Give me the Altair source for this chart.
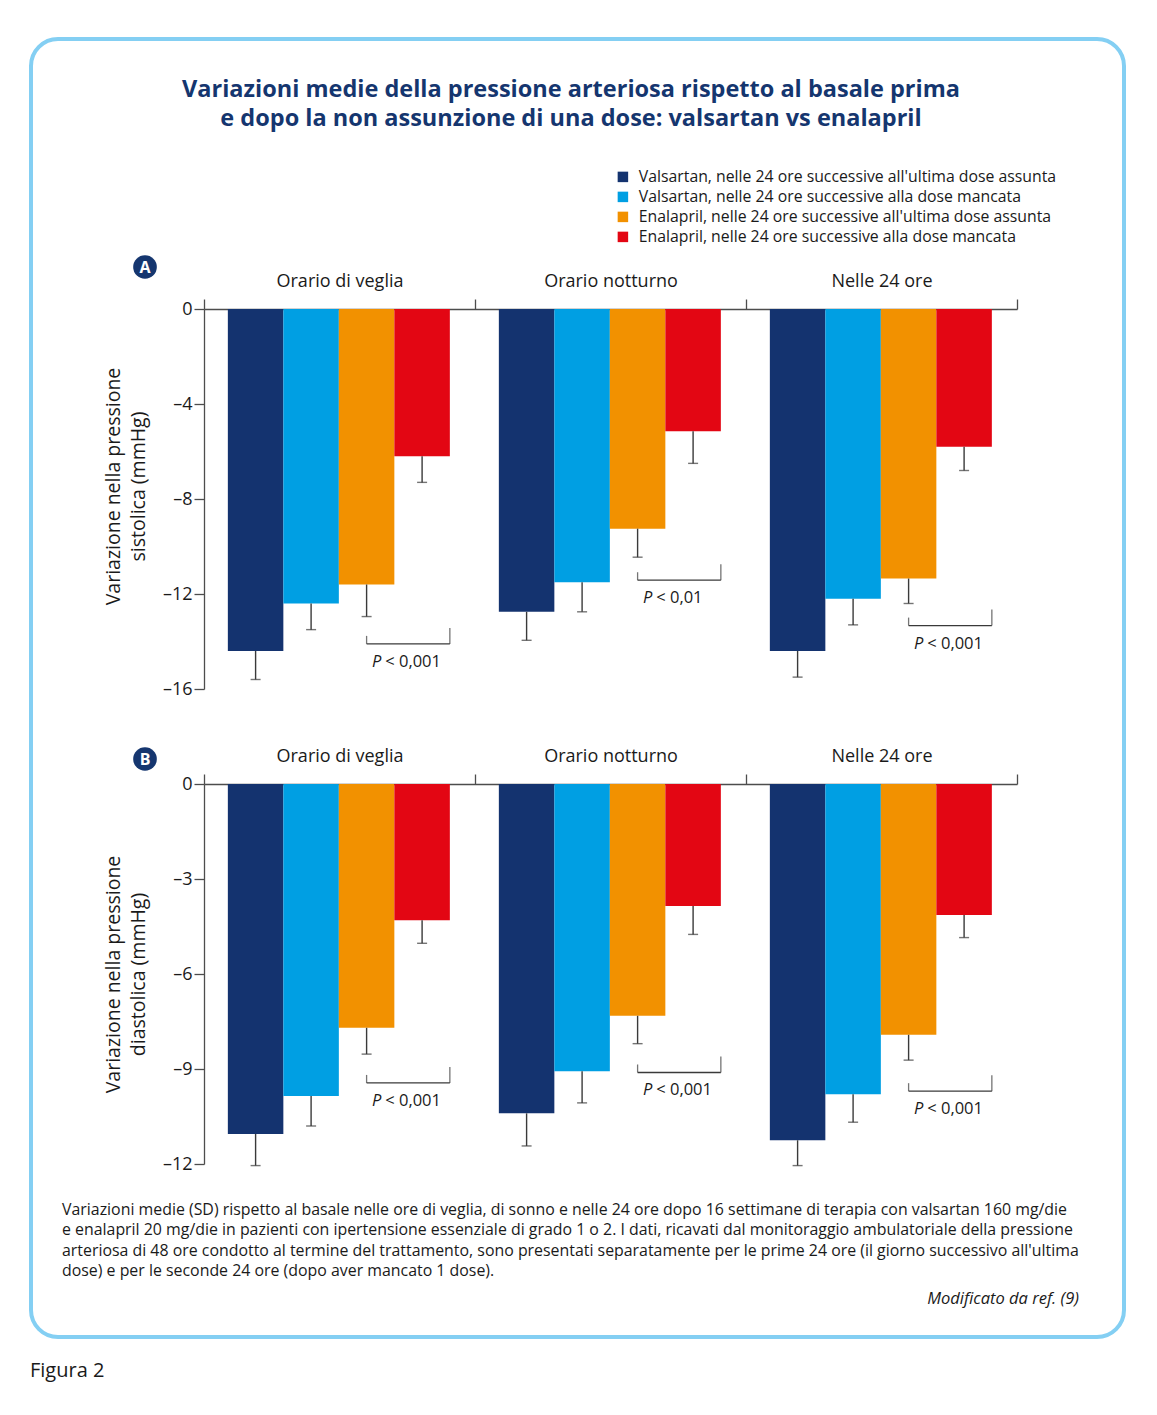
import altair as alt
import pandas as pd

GROUPS = ["Orario di veglia", "Orario notturno", "Nelle 24 ore"]
SERIES = [
    "Valsartan, nelle 24 ore successive all'ultima dose assunta",
    "Valsartan, nelle 24 ore successive alla dose mancata",
    "Enalapril, nelle 24 ore successive all'ultima dose assunta",
    "Enalapril, nelle 24 ore successive alla dose mancata",
]
COLORS = ["#14336f", "#009fe3", "#f29100", "#e30613"]

# Panel A - systolic (mmHg), per group: 4 series
SYS_VEGLIA = [-14.4, -12.4, -11.6, -6.2]
SYS_NOTTURNO = [-12.75, -11.5, -9.25, -5.15]
SYS_24H = [-14.4, -12.2, -11.35, -5.8]
SYS_SD_VEGLIA = [1.2, 1.1, 1.35, 1.1]
SYS_SD_NOTTURNO = [1.2, 1.25, 1.2, 1.35]
SYS_SD_24H = [1.1, 1.1, 1.05, 1.0]
SYS_BRACKET = [-14.1, -11.42, -13.33]
SYS_P = ["< 0,001", "< 0,01", "< 0,001"]

# Panel B - diastolic (mmHg)
DIA_VEGLIA = [-11.05, -9.85, -7.7, -4.3]
DIA_NOTTURNO = [-10.4, -9.07, -7.32, -3.85]
DIA_24H = [-11.25, -9.8, -7.92, -4.14]
DIA_SD_VEGLIA = [1.0, 0.95, 0.83, 0.73]
DIA_SD_NOTTURNO = [1.03, 1.0, 0.88, 0.9]
DIA_SD_24H = [0.8, 0.88, 0.8, 0.71]
DIA_BRACKET = [-9.44, -9.11, -9.70]
DIA_P = ["< 0,001", "< 0,001", "< 0,001"]

SYS_TICKS = [0, -4, -8, -12, -16]
DIA_TICKS = [0, -3, -6, -9, -12]

TITLE = ("Variazioni medie della pressione arteriosa rispetto al basale prima\n"
         "e dopo la non assunzione di una dose: valsartan vs enalapril")
CAPTION = ("Variazioni medie (SD) rispetto al basale nelle ore di veglia, di sonno e nelle 24 ore dopo 16 settimane di terapia con valsartan 160 mg/die\n"
           "e enalapril 20 mg/die in pazienti con ipertensione essenziale di grado 1 o 2. I dati, ricavati dal monitoraggio ambulatoriale della pressione\n"
           "arteriosa di 48 ore condotto al termine del trattamento, sono presentati separatamente per le prime 24 ore (il giorno successivo all'ultima\n"
           "dose) e per le seconde 24 ore (dopo aver mancato 1 dose).")
SOURCE = "Modificato da ref. (9)"
FIGURE = "Figura 2"

NAVY = "#15366f"
AXC = "#4d4d4d"
ERR = "#3a3a3a"
TXT = "#1a1a1a"
FONT = "Open Sans"
OFF = 0.088
BW = 0.2048
W, H = 813, 380


def build_panel(means, sds, br_y, br_p, ydom, yvals, ytitle, title_y, letter, letter_y, legend, extras):
    rows = []
    for gi in range(3):
        for si in range(4):
            rows.append({"group": GROUPS[gi], "gi": gi, "series": SERIES[si], "si": si,
                         "mean": means[gi][si], "low": means[gi][si] - sds[gi][si]})
    df = pd.DataFrame(rows)
    bdf = pd.DataFrame({"gi": [0, 1, 2], "yb": br_y, "ptxt": br_p})

    xs = alt.Scale(domain=[0, 3], nice=False, zero=False)
    ys = alt.Scale(domain=ydom, nice=False, zero=False)

    lab = "datum.value==0.5?'%s':datum.value==1.5?'%s':datum.value==2.5?'%s':''" % tuple(GROUPS)
    xaxis = alt.Axis(orient="top", values=[0, 0.5, 1, 1.5, 2, 2.5, 3], labelExpr=lab,
                     tickOpacity={"condition": {"test": "datum.value % 1 != 0", "value": 0}, "value": 1},
                     tickSize=10, grid=False, title=None, labelFontSize=18, labelPadding=9,
                     labelAngle=0, labelFlush=False, labelOverlap=False, labelColor=TXT)
    ykw = dict(values=yvals, labelExpr="datum.value < 0 ? '\u2013' + abs(datum.value) : datum.value",
               tickSize=10, grid=False, title=ytitle, labelFontSize=18, labelPadding=2,
               titleFontSize=19.5, titleFontWeight="normal", titlePadding=14, labelColor=TXT,
               titleColor=TXT, titleLineHeight=25)
    if title_y is not None:
        ykw["titleY"] = title_y
    yaxis = alt.Axis(**ykw)

    def X(f):
        return alt.X(f, scale=xs, axis=xaxis)

    def Y(f):
        return alt.Y(f, scale=ys, axis=yaxis)

    base = alt.Chart(df).transform_calculate(
        xl=f"datum.gi + {OFF} + datum.si * {BW}",
        xr=f"datum.gi + {OFF} + (datum.si + 1) * {BW}",
        xc=f"datum.gi + {OFF} + (datum.si + 0.5) * {BW}",
    )
    color = alt.Color("series:N", scale=alt.Scale(domain=SERIES, range=COLORS), legend=legend)
    bars = base.mark_rect().encode(x=X("xl:Q"), x2="xr:Q", y=Y("mean:Q"), y2=alt.datum(0), color=color)
    err = base.mark_rule(color=ERR, strokeWidth=1.4).encode(x=X("xc:Q"), y=Y("mean:Q"), y2="low:Q")
    caps = base.mark_tick(orient="horizontal", size=10, thickness=1.4, color=ERR).encode(
        x=X("xc:Q"), y=Y("low:Q"))

    bb = alt.Chart(bdf).transform_calculate(
        xl=f"datum.gi + {OFF} + 2.5 * {BW}",
        xr=f"datum.gi + {OFF} + 4 * {BW}",
        xm=f"datum.gi + {OFF} + 3.25 * {BW}",
    )
    hline = bb.mark_rule(color=ERR, strokeWidth=1.3).encode(x=X("xl:Q"), x2="xr:Q", y=Y("yb:Q"))
    lt = bb.mark_tick(orient="vertical", size=8, thickness=1.3, yOffset=-4, color=ERR).encode(
        x=X("xl:Q"), y=Y("yb:Q"))
    rt = bb.mark_tick(orient="vertical", size=16, thickness=1.3, yOffset=-8, color=ERR).encode(
        x=X("xr:Q"), y=Y("yb:Q"))
    pp = bb.mark_text(text="P", fontStyle="italic", align="right", baseline="middle", dx=-27, dy=18,
                      fontSize=16.5, color=TXT).encode(x=X("xm:Q"), y=Y("yb:Q"))
    pt = bb.mark_text(align="left", baseline="middle", dx=-23, dy=18, fontSize=16.5, color=TXT).encode(
        x=X("xm:Q"), y=Y("yb:Q"), text="ptxt:N")

    ldf = pd.DataFrame({"t": [letter]})
    circ = alt.Chart(ldf).mark_circle(size=560, color=NAVY, opacity=1).encode(
        x=alt.value(-59), y=alt.value(letter_y))
    ltxt = alt.Chart(ldf).mark_text(color="white", fontWeight="bold", fontSize=16,
                                    align="center", baseline="middle").encode(
        x=alt.value(-59), y=alt.value(letter_y + 1), text="t:N")

    layers = [bars, err, caps, hline, lt, rt, pp, pt, circ, ltxt] + extras
    return alt.layer(*layers).properties(width=W, height=H)


# decorations panel A
one = pd.DataFrame({"t": [TITLE]})
border = alt.Chart(pd.DataFrame({"k": [1]})).mark_rect(
    cornerRadius=27, fill="white", fillOpacity=0, stroke="#84cff3", strokeWidth=4).encode(
    x=alt.value(-173), x2=alt.value(920), y=alt.value(-270), y2=alt.value(1028))
title = alt.Chart(one).mark_text(fontSize=23.5, fontWeight="bold", color=NAVY, align="center",
                                 baseline="alphabetic", lineBreak="\n", lineHeight=29).encode(
    x=alt.value(367), y=alt.value(-212), text="t:N")

cap = alt.Chart(pd.DataFrame({"t": [CAPTION]})).mark_text(
    fontSize=15.9, color=TXT, align="left", baseline="alphabetic", lineBreak="\n", lineHeight=20.3).encode(
    x=alt.value(-142), y=alt.value(431), text="t:N")
src = alt.Chart(pd.DataFrame({"t": [SOURCE]})).mark_text(
    fontSize=16.5, fontStyle="italic", color=TXT, align="right", baseline="alphabetic").encode(
    x=alt.value(875), y=alt.value(520), text="t:N")
fig = alt.Chart(pd.DataFrame({"t": [FIGURE]})).mark_text(
    fontSize=20, color=TXT, align="left", baseline="alphabetic").encode(
    x=alt.value(-174), y=alt.value(593), text="t:N")

legend = alt.Legend(orient="none", legendX=411, legendY=-140, title=None, symbolType="square",
                    symbolSize=110, symbolStrokeWidth=0, symbolOpacity=1, labelFontSize=15.8,
                    labelLimit=700, labelOffset=8, rowPadding=3, padding=0, labelColor=TXT)

panelA = build_panel([SYS_VEGLIA, SYS_NOTTURNO, SYS_24H], [SYS_SD_VEGLIA, SYS_SD_NOTTURNO, SYS_SD_24H],
                     SYS_BRACKET, SYS_P, [-16, 0], SYS_TICKS,
                     ["Variazione nella pressione", "sistolica (mmHg)"], 177, "A", -42, legend,
                     [border, title])
panelB = build_panel([DIA_VEGLIA, DIA_NOTTURNO, DIA_24H], [DIA_SD_VEGLIA, DIA_SD_NOTTURNO, DIA_SD_24H],
                     DIA_BRACKET, DIA_P, [-12, 0], DIA_TICKS,
                     ["Variazione nella pressione", "diastolica (mmHg)"], None, "B", -25, None,
                     [cap, src, fig])

chart = alt.vconcat(panelA, panelB, spacing=95, bounds="flush").resolve_scale(
    x="independent", y="independent", color="independent").resolve_legend(
    color="independent").properties(
    padding={"left": 20, "top": 28, "right": 5, "bottom": 5}, background="white"
).configure_view(stroke="transparent").configure_axis(
    labelFont=FONT, titleFont=FONT, domainColor=AXC, tickColor=AXC, domainWidth=1.3, tickWidth=1.3
).configure_text(font=FONT).configure_legend(labelFont=FONT)

chart.save("out.html", embed_options={"renderer": "svg", "actions": False})
